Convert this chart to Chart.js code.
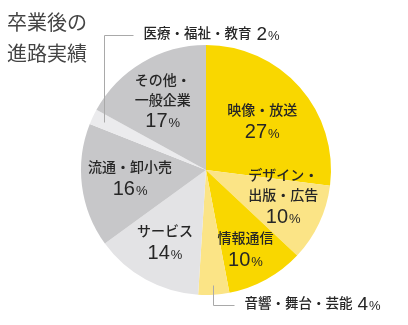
<!DOCTYPE html>
<html lang="ja">
<head>
<meta charset="utf-8">
<script src="https://cdn.jsdelivr.net/npm/chart.js@4/dist/chart.umd.min.js"></script>
<style>
  html, body { margin: 0; padding: 0; background: #fff; }
  #wrap { position: relative; width: 408px; height: 325px; }
</style>
</head>
<body>
<div id="wrap"><canvas id="career" width="408" height="325"></canvas></div>
<script>
// 卒業後の進路実績 (%)
const categories = ['映像・放送', 'デザイン・\n出版・広告', '情報通信', '音響・舞台・芸能', 'サービス', '流通・卸小売', '医療・福祉・教育', 'その他・\n一般企業'];
const shares = [27, 10, 10, 4, 14, 16, 2, 17];

const sliceColors = ['#f9d700', '#fbe486', '#f9d700', '#fbe486', '#e3e3e5', '#c7c7c9', '#ebebed', '#c7c7c9'];

// where each label goes: inside the slice, or out above / below the pie with a leader line
const labelMode = ['in', 'in', 'in', 'bottom', 'in', 'in', 'top', 'in'];
const labelRadius = [0.6, 0.65, 0.7, 0.92, 0.66, 0.61, 0.9, 0.66];
const labelTurn = [0, -7, 2, 0, 1, 2, 0, -1]; // degrees

const JP = '"Noto Sans CJK JP", "Noto Sans", sans-serif';
const NUM = '"Liberation Sans", Arial, sans-serif';
const TEXT = '#262626';

function drawPercent(ctx, value, x, y, align, digitSize, pctSize) {
  const digits = String(value);
  ctx.font = digitSize + 'px ' + NUM;
  const dw = ctx.measureText(digits).width;
  ctx.font = pctSize + 'px ' + NUM;
  const pw = ctx.measureText('%').width;
  const total = dw + 1 + pw;
  let left = align === 'center' ? x - total / 2 : x;
  ctx.textAlign = 'left';
  ctx.textBaseline = 'alphabetic';
  ctx.font = digitSize + 'px ' + NUM;
  ctx.fillText(digits, left, y + digitSize * 0.36);
  ctx.font = pctSize + 'px ' + NUM;
  ctx.fillText('%', left + dw + 1, y + digitSize * 0.36);
  return total;
}

const sliceLabels = {
  id: 'sliceLabels',
  afterDatasetsDraw(chart) {
    const ctx = chart.ctx;
    const arcs = chart.getDatasetMeta(0).data;
    ctx.save();
    ctx.fillStyle = TEXT;
    arcs.forEach((arc, i) => {
      const p = arc.getProps(['x', 'y', 'startAngle', 'endAngle', 'outerRadius'], true);
      const mid = (p.startAngle + p.endAngle) / 2 + labelTurn[i] * Math.PI / 180;
      const ax = p.x + Math.cos(mid) * p.outerRadius * labelRadius[i];
      const ay = p.y + Math.sin(mid) * p.outerRadius * labelRadius[i];
      const lines = categories[i].split('\n');

      if (labelMode[i] === 'in') {
        const gaps = (lines.length - 1) * 20 + 21;
        let ly = ay - gaps / 2;
        ctx.font = '500 14px ' + JP;
        ctx.textAlign = 'center';
        ctx.textBaseline = 'middle';
        lines.forEach(t => { ctx.fillText(t, ax, ly); ly += 20; });
        drawPercent(ctx, shares[i], ax, ly + 1, 'center', 20, 13);
      } else {
        // leader: straight up/down out of the slice, then across to the text
        const ey = labelMode[i] === 'top' ? p.y - p.outerRadius - 10 : p.y + p.outerRadius + 10;
        const run = labelMode[i] === 'top' ? 29 : 21;
        const lx = Math.round(ax) + 0.5;
        ctx.strokeStyle = '#a9a9a9';
        ctx.lineWidth = 1;
        ctx.beginPath();
        ctx.moveTo(lx, Math.round(ay) + 0.5);
        ctx.lineTo(lx, Math.round(ey) + 0.5);
        ctx.lineTo(lx + run, Math.round(ey) + 0.5);
        ctx.stroke();
        const tx = lx + run + 10;
        const ty = ey - 2;
        ctx.font = '500 13.5px ' + JP;
        ctx.textAlign = 'left';
        ctx.textBaseline = 'middle';
        const name = lines.join('');
        ctx.fillText(name, tx, ty);
        const w = ctx.measureText(name).width;
        drawPercent(ctx, shares[i], tx + w + 5, ty, 'left', 19, 13);
      }
    });

    // title
    ctx.fillStyle = '#444';
    ctx.font = '20px ' + JP;
    ctx.textAlign = 'left';
    ctx.textBaseline = 'middle';
    ctx.fillText('卒業後の', 7, 22);
    ctx.fillText('進路実績', 7, 53);
    ctx.restore();
  }
};

new Chart(document.getElementById('career'), {
  type: 'pie',
  data: {
    labels: categories,
    datasets: [{ data: shares, backgroundColor: sliceColors, borderWidth: 0 }]
  },
  options: {
    responsive: false,
    animation: false,
    layout: { padding: { left: 81, right: 77, top: 45, bottom: 30 } },
    plugins: { legend: { display: false }, tooltip: { enabled: false } }
  },
  plugins: [sliceLabels]
});
</script>
</body>
</html>
